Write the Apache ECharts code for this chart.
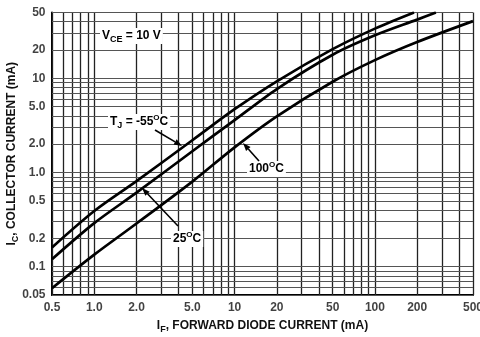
<!DOCTYPE html>
<html>
<head>
<meta charset="utf-8">
<script src="https://cdn.jsdelivr.net/npm/echarts@6/dist/echarts.min.js"></script>
<style>
html,body{margin:0;padding:0;background:#fff;}
#chart{width:480px;height:337px;}
</style>
</head>
<body>
<div id="chart"></div>
<script>
var FONT = '"Liberation Sans",Arial,sans-serif';

// IF (mA) -> IC (mA), one pair per junction temperature
var ifM55 = [0.5, 1.0, 2.0, 5.0, 10, 20, 50, 100, 190];
var icM55 = [0.16, 0.39, 0.81, 2.2, 4.7, 9.3, 20.4, 33.7, 50];
var if25 = [0.5, 1.0, 2.0, 5.0, 10, 20, 50, 100, 200, 272];
var ic25 = [0.12, 0.29, 0.61, 1.68, 3.6, 7.7, 17.8, 28.6, 42, 50];
var if100 = [0.5, 1.0, 2.0, 5.0, 10, 20, 50, 100, 200, 500];
var ic100 = [0.059, 0.134, 0.287, 0.80, 1.85, 3.95, 9.2, 15.6, 24.3, 40.5];

// tick labels
var xTickValues = [0.5, 1, 2, 5, 10, 20, 50, 100, 200, 500];
var xTickLabels = ['0.5', '1.0', '2.0', '5.0', '10', '20', '50', '100', '200', '500'];
var yTickValues = [0.05, 0.1, 0.2, 0.5, 1, 2, 5, 10, 20, 50];
var yTickLabels = ['0.05', '0.1', '0.2', '0.5', '1.0', '2.0', '5.0', '10', '20', '50'];
var xDecades = [0.1, 1, 10, 100];
var yDecades = [0.01, 0.1, 1, 10];

var X_MIN = 0.5, X_MAX = 500, Y_MIN = 0.05, Y_MAX = 50;

// log paper lines: 1..9 in every decade
function gridValues(decades, lo, hi) {
	var out = [];
	decades.forEach(function (d) {
		for (var k = 1; k < 10; k++) {
			var v = +(d * k).toPrecision(3);
			if (v >= lo - 1e-9 && v <= hi + 1e-9) out.push(v);
		}
	});
	return out;
}
var xGrid = gridValues(xDecades, X_MIN, X_MAX);
var yGrid = gridValues(yDecades, Y_MIN, Y_MAX);

function txt(size) {
	return { fontFamily: FONT, fontSize: size, fontWeight: 'bold', color: '#111' };
}
var rich = {
	m: { fontFamily: FONT, fontSize: 12, fontWeight: 'bold', color: '#111', lineHeight: 16, verticalAlign: 'middle' },
	s: { fontFamily: FONT, fontSize: 9, fontWeight: 'bold', color: '#111', lineHeight: 9, verticalAlign: 'bottom' },
	p: { fontFamily: FONT, fontSize: 8, fontWeight: 'bold', color: '#111', lineHeight: 8, verticalAlign: 'top' }
};

function curve(name, xs, ys) {
	return {
		name: name,
		type: 'line',
		smooth: 0.3,
		symbol: 'none',
		z: 5,
		lineStyle: { color: '#000', width: 2.7 },
		data: xs.map(function (x, i) { return [x, ys[i]]; })
	};
}

function arrow(x1, y1, x2, y2) {
	var dx = x2 - x1, dy = y2 - y1, len = Math.sqrt(dx * dx + dy * dy);
	var ux = dx / len, uy = dy / len, hl = 8, hw = 3;
	var bx = x2 - ux * hl, by = y2 - uy * hl;
	return [
		{ type: 'line', z: 20, shape: { x1: x1, y1: y1, x2: bx, y2: by }, style: { stroke: '#000', lineWidth: 1.6 } },
		{ type: 'polygon', z: 20, shape: { points: [[x2, y2], [bx - uy * hw, by + ux * hw], [bx + uy * hw, by - ux * hw]] }, style: { fill: '#000' } }
	];
}

function note(x, y, text) {
	return {
		type: 'text', x: x, y: y, z: 20,
		style: { text: text, rich: rich, verticalAlign: 'middle', backgroundColor: '#fff', padding: [0, 2] }
	};
}

var myChart = echarts.init(document.getElementById('chart'));
var option = {
	animation: false,
	grid: { left: 52, right: 7, top: 12.5, bottom: 42, containLabel: false, outerBoundsMode: 'none' },
	xAxis: {
		type: 'log', logBase: 10, min: X_MIN, max: X_MAX,
		axisLine: { show: true, onZero: false, lineStyle: { color: '#000', width: 2 } },
		axisTick: { show: false },
		axisLabel: { show: false },
		splitLine: { show: false },
		name: '{m|I}{s|F}{m|, FORWARD DIODE CURRENT (mA)}',
		nameLocation: 'middle',
		nameGap: 23,
		nameTextStyle: { rich: rich }
	},
	yAxis: {
		type: 'log', logBase: 10, min: Y_MIN, max: Y_MAX,
		axisLine: { show: true, onZero: false, lineStyle: { color: '#000', width: 2 } },
		axisTick: { show: false },
		axisLabel: { show: false },
		splitLine: { show: false },
		name: '{m|I}{s|C}{m|, COLLECTOR CURRENT (mA)}',
		nameLocation: 'middle',
		nameRotate: 90,
		nameGap: 32,
		nameTextStyle: { rich: rich }
	},
	series: [
		{
			type: 'line', data: [], z: 1, silent: true,
			markLine: {
				silent: true, symbol: ['none', 'none'], label: { show: false }, animation: false,
				data: xGrid.map(function (v) {
					return { xAxis: v, lineStyle: { color: '#222', width: 1.3, type: 'solid' } };
				}).concat(yGrid.map(function (v) {
					return { yAxis: v, lineStyle: { color: '#555', width: 1, type: 'solid' } };
				}))
			}
		},
		curve('-55', ifM55, icM55),
		curve('25', if25, ic25),
		curve('100', if100, ic100),
		{
			type: 'scatter', symbolSize: 1, silent: true, z: 6,
			itemStyle: { color: 'rgba(0,0,0,0)' },
			label: Object.assign({ show: true, position: 'bottom', distance: 6 }, txt(12)),
			data: xTickValues.map(function (v, i) {
				return { value: [v, Y_MIN], label: { formatter: xTickLabels[i] } };
			})
		},
		{
			type: 'scatter', symbolSize: 1, silent: true, z: 6,
			itemStyle: { color: 'rgba(0,0,0,0)' },
			label: Object.assign({ show: true, position: 'left', distance: 6 }, txt(12)),
			data: yTickValues.map(function (v, i) {
				return { value: [X_MIN, v], label: { formatter: yTickLabels[i] } };
			})
		}
	],
	graphic: [
		note(100, 36, '{m|V}{s|CE}{m| = 10 V}'),
		note(108, 122, '{m|T}{s|J}{m| = -55}{p|O}{m|C}'),
		note(171, 239, '{m|25}{p|O}{m|C}'),
		note(247, 169, '{m|100}{p|O}{m|C}')
	].concat(arrow(155, 130, 182, 146))
	 .concat(arrow(178, 226, 142, 188))
	 .concat(arrow(259, 161, 243, 143))
};
myChart.setOption(option);
</script>
</body>
</html>
